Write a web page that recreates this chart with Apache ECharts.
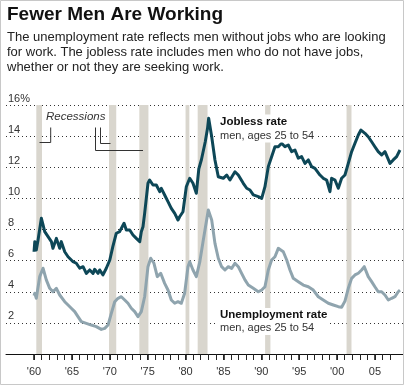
<!DOCTYPE html>
<html><head><meta charset="utf-8">
<script src="https://cdn.jsdelivr.net/npm/echarts@6/dist/echarts.min.js"></script>
<style>html,body{margin:0;padding:0;background:#fff}#c{width:408px;height:385px}</style>
</head><body><div id="c"></div>
<script>
const titleText = 'Fewer Men Are Working';
const subtitleLines = [
  'The unemployment rate reflects men without jobs who are looking',
  'for work. The jobless rate includes men who do not have jobs,',
  'whether or not they are seeking work.'
];
const joblessLabel = ['Jobless rate', 'men, ages 25 to 54'];
const unempLabel = ['Unemployment rate', 'men, ages 25 to 54'];
const recessionLabel = 'Recessions';

const joblessYears = [1960.0,1960.1,1960.3,1960.53,1960.97,1961.19,1961.41,1961.85,1962.29,1962.5,1962.95,1963.39,1963.6,1964.05,1964.49,1964.7,1965.15,1965.58,1966.03,1966.47,1966.9,1967.35,1967.79,1968.0,1968.45,1968.67,1969.1,1969.54,1970.0,1970.4,1970.86,1971.3,1971.88,1972.18,1972.63,1973.06,1973.5,1973.95,1974.16,1974.38,1974.6,1975.04,1975.26,1975.7,1976.14,1976.59,1976.8,1977.24,1977.68,1978.12,1978.57,1979.0,1979.22,1979.66,1980.1,1980.55,1980.98,1981.42,1981.75,1982.1,1982.6,1982.9,1983.05,1983.45,1983.88,1984.32,1984.98,1985.43,1985.86,1986.52,1986.96,1987.62,1988.07,1988.5,1988.94,1989.6,1990.05,1990.48,1990.92,1991.36,1991.8,1992.24,1992.68,1993.12,1993.56,1994.0,1994.44,1994.88,1995.32,1995.76,1996.2,1996.64,1997.08,1997.74,1998.18,1998.62,1999.06,1999.28,1999.72,2000.16,2000.6,2001.04,2001.48,2001.92,2002.36,2002.8,2003.15,2003.68,2004.11,2004.56,2004.99,2005.43,2005.88,2006.32,2006.98,2007.41,2007.86,2008.3];
const joblessRate = [6.57,7.22,6.68,7.33,8.72,8.29,7.86,7.54,7.22,6.79,7.43,6.79,7.22,6.57,6.25,6.36,5.93,5.83,5.51,5.61,5.18,5.4,5.18,5.44,5.18,5.4,5.08,5.51,6.04,6.9,7.76,7.86,8.4,7.97,7.97,7.65,7.43,7.22,7.86,8.18,9.04,10.97,11.18,10.86,10.86,10.43,10.64,10.22,9.79,9.36,9.04,8.61,8.82,9.14,10.75,11.29,10.97,10.33,11.9,12.5,13.64,14.5,15.15,13.96,12.47,11.39,11.29,11.5,11.18,11.71,11.5,10.97,10.65,10.54,10.22,10.11,10.0,10.75,12.04,12.68,13.32,13.32,13.54,13.32,13.43,13.0,13.11,12.58,12.68,12.25,12.47,12.04,11.93,11.5,11.29,11.18,10.43,11.29,11.18,10.65,11.29,11.5,12.25,13.0,13.54,14.07,14.39,14.18,13.96,13.64,13.32,13.0,12.79,13.0,12.25,12.47,12.68,13.11];

const unempYears = [1960.0,1960.1,1960.3,1960.75,1961.19,1961.62,1962.07,1962.5,1962.95,1963.39,1963.6,1964.05,1964.49,1964.92,1965.37,1965.8,1966.24,1966.9,1967.56,1968.22,1968.88,1969.33,1969.77,1970.2,1970.65,1971.08,1971.52,1971.97,1972.4,1972.84,1973.29,1973.72,1974.16,1974.6,1975.04,1975.4,1975.83,1976.27,1976.72,1977.24,1977.68,1978.12,1978.57,1979.0,1979.44,1979.88,1980.32,1980.55,1980.98,1981.42,1981.87,1982.3,1983.0,1983.45,1983.88,1984.32,1984.76,1985.2,1985.64,1986.08,1986.52,1986.96,1987.4,1987.84,1988.28,1988.94,1989.6,1990.05,1990.48,1990.92,1991.36,1991.8,1992.24,1992.46,1992.9,1993.35,1993.78,1994.22,1994.88,1995.54,1996.2,1996.86,1997.52,1998.18,1998.84,1999.5,2000.16,2000.6,2001.04,2001.48,2001.92,2002.36,2002.8,2003.24,2003.59,2004.11,2004.56,2004.99,2005.43,2005.88,2006.32,2006.76,2007.2,2007.64,2008.07,2008.3];
const unempRate = [3.75,3.9,3.58,4.97,5.51,4.76,4.22,4.0,4.22,3.79,3.9,3.36,3.15,2.94,2.72,2.4,2.08,1.97,1.86,1.76,1.58,1.65,1.86,2.61,3.36,3.58,3.68,3.47,3.26,2.94,2.72,2.4,2.72,3.68,5.61,6.15,5.83,4.97,5.19,4.54,4.11,3.47,3.26,3.36,3.26,3.9,5.61,5.93,5.4,4.97,5.9,7.2,9.25,8.61,7.11,6.15,5.61,5.4,5.61,5.5,5.83,5.61,5.18,4.76,4.43,4.22,4.0,4.11,4.32,5.4,6.04,6.25,6.79,6.9,6.57,6.04,5.4,4.86,4.65,4.43,4.32,4.11,3.68,3.47,3.26,3.15,3.04,3.0,3.4,4.22,4.86,5.08,5.19,5.4,5.61,4.97,4.65,4.32,4.0,4.0,3.79,3.47,3.58,3.68,4.0,4.1];

const recessionStarts = [1960.3,1969.9,1973.9,1980.0,1981.6,1990.5,2001.25];
const recessionEnds   = [1961.05,1970.85,1975.1,1980.5,1982.9,1991.2,2001.9];

const xLabelYears = [1960,1965,1970,1975,1980,1985,1990,1995,2000,2005];
const xLabelTexts = ["'60","'65","'70","'75","'80","'85","'90","'95","'00","05"];
const xTickYears = [1960,1961,1962,1963,1964,1965,1966,1967,1968,1969,1970,1971,1972,1973,1974,1975,1976,1977,1978,1979,1980,1981,1982,1983,1984,1985,1986,1987,1988,1989,1990,1991,1992,1993,1994,1995,1996,1997,1998,1999,2000,2001,2002,2003,2004,2005,2006,2007];

const FONT = '"Liberation Sans", Arial, Helvetica, sans-serif';
const X_MIN = 1956.3, X_MAX = 2008.7;

const chart = echarts.init(document.getElementById('c'), null, {renderer: 'canvas'});

function pairs(xs, ys) { return xs.map((x, i) => [x, ys[i]]); }

const option = {
  animation: false,
  backgroundColor: '#fff',
  title: [
    { text: titleText, left: 7, top: 5, padding: 0,
      textStyle: { fontFamily: FONT, fontWeight: 900, fontSize: 19, color: '#111' } },
    { text: subtitleLines.join('\n'), left: 7, top: 30.5, padding: 0,
      textStyle: { fontFamily: FONT, fontWeight: 'normal', fontSize: 13, lineHeight: 14.7, color: '#222' } }
  ],
  grid: { left: 6, right: 5, top: 105, bottom: 31, containLabel: false },
  xAxis: [
    { type: 'value', min: X_MIN, max: X_MAX, position: 'bottom',
      axisLine: { show: true, onZero: false, lineStyle: { color: '#111', width: 1 } },
      axisTick: { show: true, customValues: xLabelYears, length: 6, lineStyle: { color: '#111', width: 1.5 } },
      axisLabel: { customValues: xLabelYears, margin: 12, fontSize: 11, color: '#333', fontFamily: FONT,
        formatter: v => { const i = xLabelYears.indexOf(Math.round(v)); return i >= 0 ? xLabelTexts[i] : ''; } },
      splitLine: { show: false } },
    { type: 'value', min: X_MIN, max: X_MAX, position: 'bottom', offset: 0,
      axisLine: { show: false, onZero: false },
      axisTick: { show: true, customValues: xTickYears, length: 6, lineStyle: { color: '#222', width: 1 } },
      axisLabel: { show: false },
      splitLine: { show: false } }
  ],
  yAxis: {
    type: 'value', min: 0, max: 16, interval: 2,
    axisLine: { show: false }, axisTick: { show: false },
    axisLabel: { inside: true, margin: 2, align: 'left', verticalAlign: 'bottom', fontSize: 11, color: '#333', fontFamily: FONT,
      padding: [0, 0, 1, 0],
      formatter: v => v === 0 ? '' : (v === 16 ? '16%' : String(v)) },
    splitLine: { show: true, lineStyle: { type: [1, 3], color: '#333', width: 1 } }
  },
  series: [
    { type: 'line', name: 'recessions', data: [], z: -1, silent: true,
      markArea: { silent: true, itemStyle: { color: '#d9d6ce' },
        data: recessionStarts.map((s, i) => [{ xAxis: s, yAxis: 0 }, { xAxis: recessionEnds[i], yAxis: 16 }]) } },
    { type: 'line', name: 'Unemployment rate', data: pairs(unempYears, unempRate), showSymbol: false, symbol: 'none',
      lineStyle: { color: '#8fa4ae', width: 3, join: 'round' }, z: 3 },
    { type: 'line', name: 'Jobless rate', data: pairs(joblessYears, joblessRate), showSymbol: false, symbol: 'none',
      lineStyle: { color: '#0d4757', width: 3, join: 'round' }, z: 4 }
  ],
  graphic: [
    { type: 'rect', shape: { x: 0.5, y: 0.5, width: 403, height: 384 }, style: { fill: 'none', stroke: '#c8c8c8', lineWidth: 1 }, silent: true, z: 100 },
    { type: 'text', left: 46, top: 111, silent: true, z: 10,
      style: { text: recessionLabel, font: 'italic 11.5px ' + FONT, fill: '#333' } },
    { type: 'polyline', silent: true, z: 10, shape: { points: [[50.7, 127.5], [50.7, 142.5], [39.5, 142.5]] }, style: { stroke: '#333', lineWidth: 1, fill: null } },
    { type: 'polyline', silent: true, z: 10, shape: { points: [[95.5, 127.5], [95.5, 150.5], [143, 150.5]] }, style: { stroke: '#333', lineWidth: 1, fill: null } },
    { type: 'polyline', silent: true, z: 10, shape: { points: [[100.5, 127.5], [100.5, 143.5], [110.5, 143.5]] }, style: { stroke: '#333', lineWidth: 1, fill: null } },
    { type: 'text', left: 218, top: 114.5, silent: true, z: 10,
      style: { text: '{b|' + joblessLabel[0] + '}\n{n|' + joblessLabel[1] + '}', backgroundColor: '#fff', padding: [0, 2],
        rich: { b: { fontFamily: FONT, fontWeight: 'bold', fontSize: 11.5, lineHeight: 14, fill: '#111' },
                n: { fontFamily: FONT, fontSize: 11, lineHeight: 14, fill: '#333' } } } },
    { type: 'text', left: 218, top: 308, silent: true, z: 10,
      style: { text: '{b|' + unempLabel[0] + '}\n{n|' + unempLabel[1] + '}', backgroundColor: '#fff', padding: [0, 2],
        rich: { b: { fontFamily: FONT, fontWeight: 'bold', fontSize: 11.5, lineHeight: 13.5, fill: '#111' },
                n: { fontFamily: FONT, fontSize: 11, lineHeight: 13.5, fill: '#333' } } } }
  ]
};
chart.setOption(option);
</script></body></html>
